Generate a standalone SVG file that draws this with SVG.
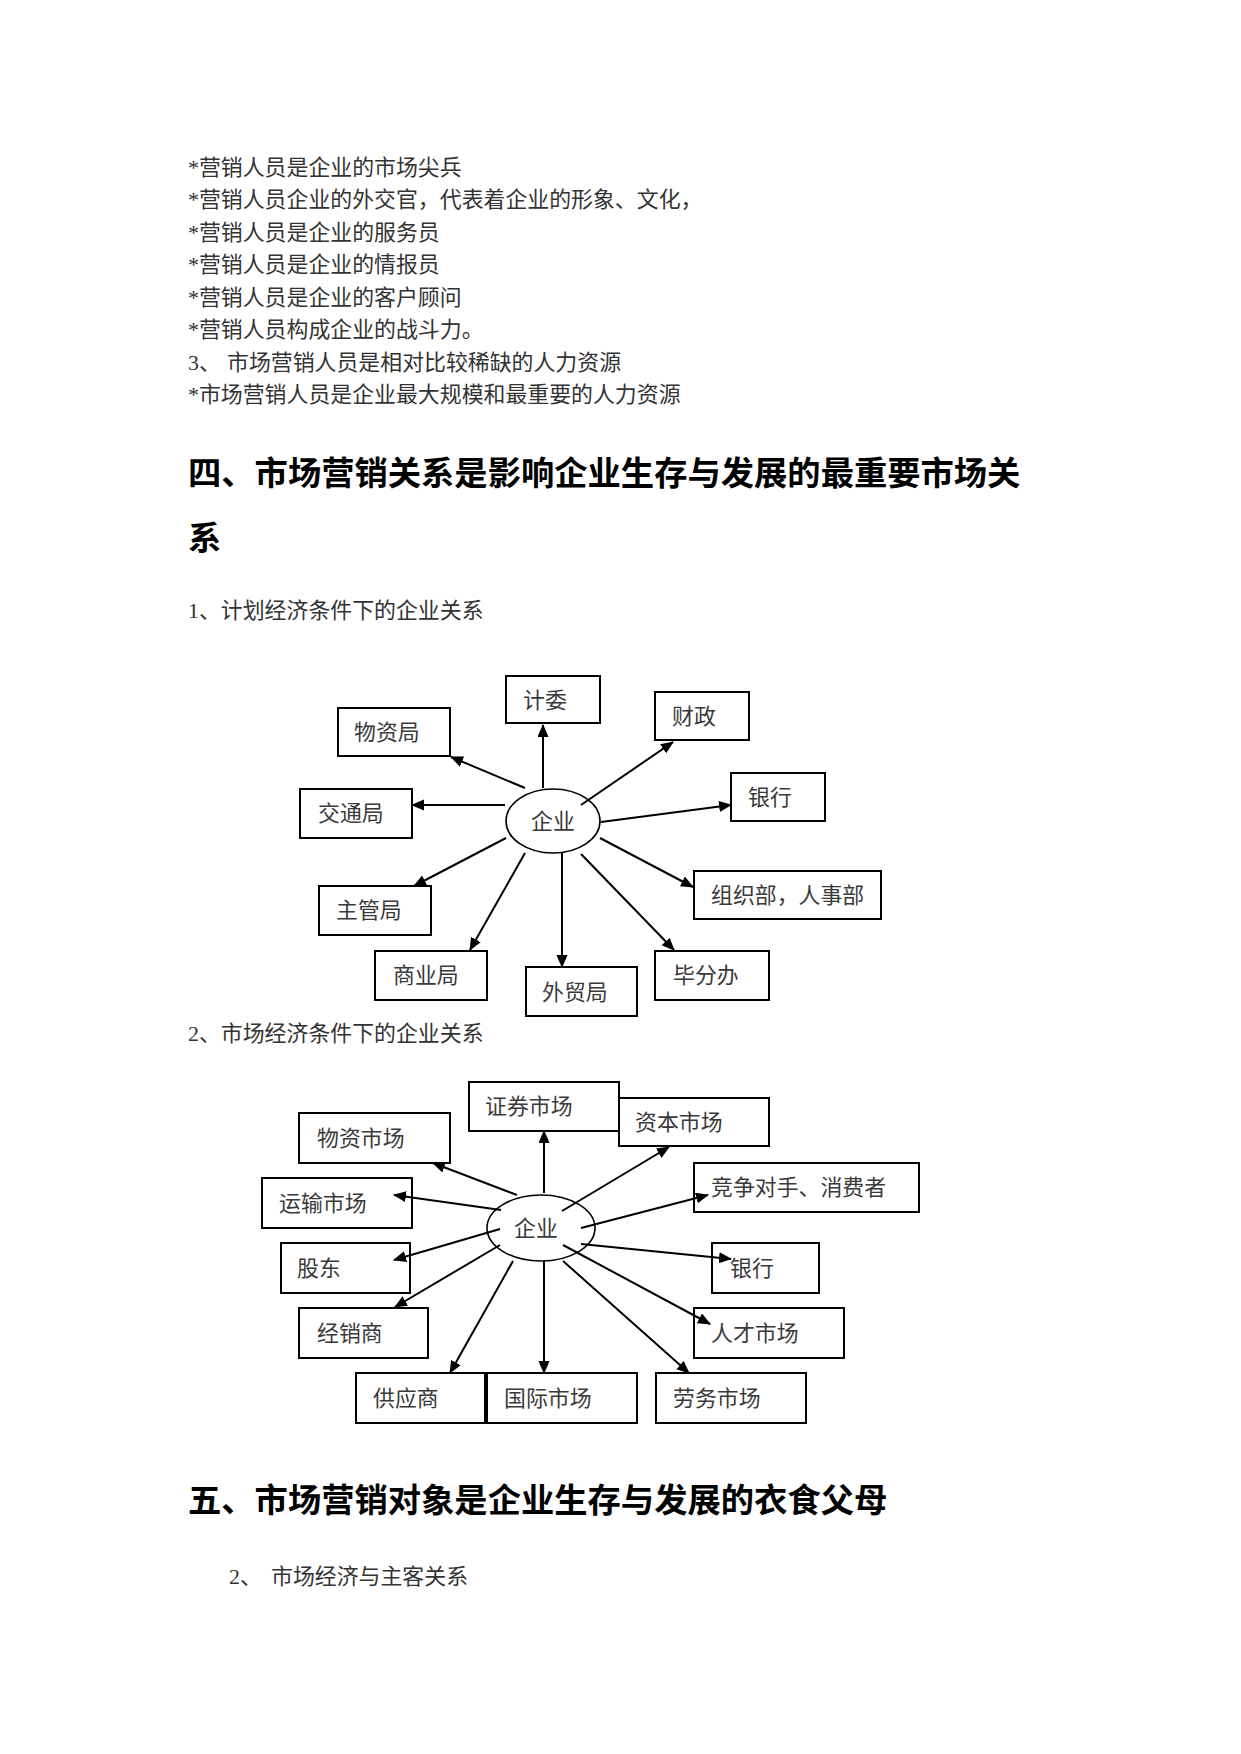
<svg xmlns="http://www.w3.org/2000/svg" width="1241" height="1754" viewBox="0 0 1241 1754">
<defs>
<style>
.body{font-family:"Liberation Serif","Noto Sans CJK SC",serif;font-size:21.9px;fill:#333}
.head{font-family:"Liberation Sans","Noto Sans CJK SC",sans-serif;font-size:33.3px;font-weight:bold;fill:#000}
.box{fill:#fff;stroke:#000;stroke-width:2}
.ell{fill:#fff;stroke:#000;stroke-width:1.6}
.lbl{font-family:"Liberation Serif","Noto Sans CJK SC",serif;font-size:21.9px;fill:#3a3a3a}
.ctr{text-anchor:middle}
.arr{stroke:#000;stroke-width:2;fill:none;marker-end:url(#ah)}
</style>
<marker id="ah" markerUnits="userSpaceOnUse" markerWidth="14" markerHeight="12" refX="12" refY="5.5" orient="auto">
<path d="M0,0 L13,5.5 L0,11 z" fill="#000"/>
</marker>
</defs>
<rect width="1241" height="1754" fill="#fff"/>

<g id="text-block">
<text class="body" x="188" y="175">*营销人员是企业的市场尖兵</text>
<text class="body" x="188" y="207">*营销人员企业的外交官，代表着企业的形象、文化，</text>
<text class="body" x="188" y="240">*营销人员是企业的服务员</text>
<text class="body" x="188" y="272">*营销人员是企业的情报员</text>
<text class="body" x="188" y="305">*营销人员是企业的客户顾问</text>
<text class="body" x="188" y="337">*营销人员构成企业的战斗力。</text>
<text class="body" x="188" y="370">3、<tspan x="227">市场营销人员是相对比较稀缺的人力资源</tspan></text>
<text class="body" x="188" y="402">*市场营销人员是企业最大规模和最重要的人力资源</text>
<text class="head" x="188" y="485">四、市场营销关系是影响企业生存与发展的最重要市场关</text>
<text class="head" x="188" y="550">系</text>
<text class="body" x="188" y="618">1、计划经济条件下的企业关系</text>
<text class="body" x="188" y="1041">2、市场经济条件下的企业关系</text>
<text class="head" x="188" y="1512">五、市场营销对象是企业生存与发展的衣食父母</text>
<text class="body" x="229" y="1584">2、<tspan x="271">市场经济与主客关系</tspan></text>
</g>

<!-- Diagram 1 -->
<g id="d1-jiwei"><rect class="box" x="506" y="676" width="94" height="47"/><text class="lbl" x="523" y="708">计委</text></g>
<g id="d1-wuziju"><rect class="box" x="338" y="708" width="112" height="48"/><text class="lbl" x="354" y="740">物资局</text></g>
<g id="d1-caizheng"><rect class="box" x="655" y="692" width="94" height="48"/><text class="lbl" x="672" y="724">财政</text></g>
<g id="d1-yinhang"><rect class="box" x="731" y="773" width="94" height="48"/><text class="lbl" x="748" y="805">银行</text></g>
<g id="d1-jiaotongju"><rect class="box" x="300" y="789" width="112" height="49"/><text class="lbl" x="318" y="821">交通局</text></g>
<g id="d1-qiye"><ellipse class="ell" cx="553" cy="821" rx="47" ry="32"/><text class="lbl ctr" x="553" y="829">企业</text></g>
<g id="d1-zuzhibu"><rect class="box" x="694" y="871" width="187" height="48"/><text class="lbl" x="711" y="903">组织部，人事部</text></g>
<g id="d1-zhuguanju"><rect class="box" x="319" y="886" width="112" height="49"/><text class="lbl" x="336" y="918">主管局</text></g>
<g id="d1-shangyeju"><rect class="box" x="375" y="951" width="112" height="49"/><text class="lbl" x="393" y="983">商业局</text></g>
<g id="d1-waimaoju"><rect class="box" x="526" y="967" width="111" height="49"/><text class="lbl" x="542" y="1000">外贸局</text></g>
<g id="d1-bifenban"><rect class="box" x="655" y="951" width="114" height="49"/><text class="lbl" x="673" y="983">毕分办</text></g>
<g id="d1-connectors">
<line class="arr" x1="543" y1="788" x2="543" y2="725"/>
<line class="arr" x1="525" y1="788" x2="451" y2="757"/>
<line class="arr" x1="581" y1="805" x2="673" y2="742"/>
<line class="arr" x1="601" y1="822" x2="731" y2="805"/>
<line class="arr" x1="505" y1="805" x2="412" y2="805"/>
<line class="arr" x1="600" y1="838" x2="693" y2="887"/>
<line class="arr" x1="506" y1="838" x2="414" y2="886"/>
<line class="arr" x1="525" y1="853" x2="470" y2="950"/>
<line class="arr" x1="562" y1="853" x2="562" y2="967" stroke-width="3"/>
<line class="arr" x1="581" y1="854" x2="674" y2="950"/>
</g>

<!-- Diagram 2 -->
<g id="d2-zhengquan"><rect class="box" x="469" y="1082" width="150" height="49"/><text class="lbl" x="485" y="1114">证券市场</text></g>
<g id="d2-ziben"><rect class="box" x="619" y="1098" width="150" height="48"/><text class="lbl" x="635" y="1130">资本市场</text></g>
<g id="d2-wuzi"><rect class="box" x="299" y="1113" width="151" height="50"/><text class="lbl" x="317" y="1146">物资市场</text></g>
<g id="d2-jingzheng"><rect class="box" x="694" y="1163" width="225" height="49"/><text class="lbl" x="711" y="1195">竞争对手、消费者</text></g>
<g id="d2-yunshu"><rect class="box" x="262" y="1178" width="150" height="50"/><text class="lbl" x="279" y="1211">运输市场</text></g>
<g id="d2-qiye"><ellipse class="ell" cx="541" cy="1228" rx="54" ry="33"/><text class="lbl ctr" x="536" y="1236">企业</text></g>
<g id="d2-gudong"><rect class="box" x="281" y="1243" width="129" height="50"/><text class="lbl" x="297" y="1276">股东</text></g>
<g id="d2-yinhang"><rect class="box" x="712" y="1243" width="107" height="50"/><text class="lbl" x="730" y="1276">银行</text></g>
<g id="d2-jingxiao"><rect class="box" x="299" y="1308" width="129" height="50"/><text class="lbl" x="317" y="1341">经销商</text></g>
<g id="d2-rencai"><rect class="box" x="694" y="1308" width="150" height="50"/><text class="lbl" x="711" y="1341">人才市场</text></g>
<g id="d2-gongying"><rect class="box" x="356" y="1373" width="129" height="50"/><text class="lbl" x="373" y="1406">供应商</text></g>
<g id="d2-guoji"><rect class="box" x="487" y="1373" width="150" height="50"/><text class="lbl" x="504" y="1406">国际市场</text></g>
<g id="d2-laowu"><rect class="box" x="656" y="1373" width="150" height="50"/><text class="lbl" x="673" y="1406">劳务市场</text></g>
<g id="d2-connectors">
<line class="arr" x1="544" y1="1193" x2="544" y2="1131"/>
<line class="arr" x1="562" y1="1211" x2="669" y2="1147"/>
<line class="arr" x1="517" y1="1195" x2="433" y2="1163"/>
<line class="arr" x1="581" y1="1228" x2="708" y2="1195"/>
<line class="arr" x1="501" y1="1210" x2="394" y2="1195"/>
<line class="arr" x1="500" y1="1229" x2="394" y2="1260"/>
<line class="arr" x1="581" y1="1244" x2="731" y2="1259"/>
<line class="arr" x1="500" y1="1245" x2="395" y2="1307"/>
<line class="arr" x1="563" y1="1245" x2="710" y2="1324"/>
<line class="arr" x1="513" y1="1261" x2="450" y2="1373"/>
<line class="arr" x1="544" y1="1261" x2="544" y2="1373"/>
<line class="arr" x1="563" y1="1261" x2="689" y2="1373"/>
</g>
</svg>
